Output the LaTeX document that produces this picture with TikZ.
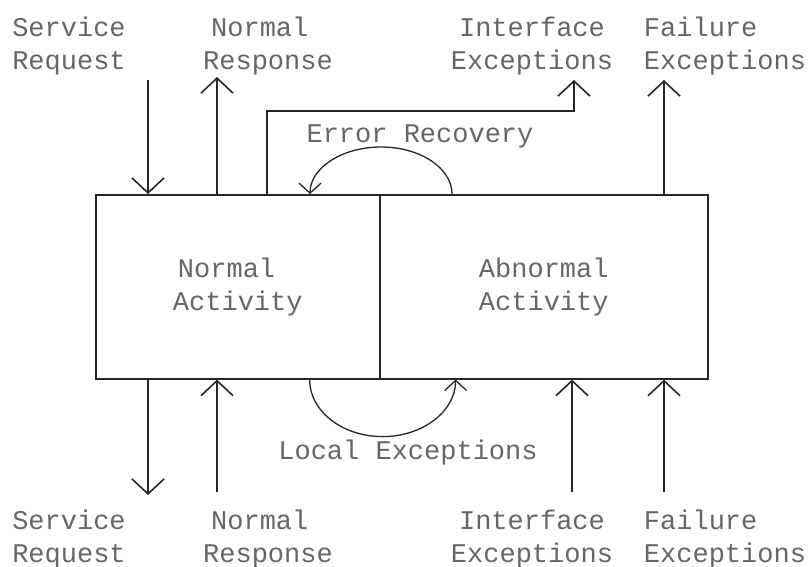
\documentclass[tikz,border=0pt]{standalone}
\usepackage{fontspec}
\setmonofont{Liberation Mono}
\usetikzlibrary{arrows.meta}
\usetikzlibrary{calc}

\begin{document}
\begin{tikzpicture}[
            x = 1pt, y = -1pt, % pixel grid of the drawing
            > = {Straight Barb[length=15pt, width=32pt]}, % open arrow head
            line width = 1.6pt,
            draw = black!85
        ]

        \tikzstyle{label}=[
            text = black!60,
            font = \ttfamily\fontsize{27}{33}\selectfont,
            inner sep = 0pt
        ]
        \tikzstyle{activity}=[
            label,
            draw = black!85,
            line width = 1.6pt,
            anchor = north west,
            minimum height = 184pt
        ]
        \tikzstyle{loop}=[
            line width = 1.3pt,
            -{Straight Barb[length=10pt, width=22pt]}
        ]

        \useasboundingbox (0,0) rectangle (808,566);

	% activity boxes
        \node[activity, minimum width=284pt, align=left] (NA) at (95,194) {\hspace*{5pt}Normal\\Activity};
        \node[activity, minimum width=328pt, align=center] (AA) at (379,194) {Abnormal\\Activity};

	% labels above
        \node[label, align=center] (SRt) at (69,46) {Service\\Request};
        \node[label, align=left] (NRt) at (268,46) {\hspace*{8pt}Normal\\Response};
        \node[label, align=center] (IEt) at (532,46) {Interface\\Exceptions};
        \node[label, align=left] (FEt) at (725,46) {Failure\\Exceptions};

	% labels below
        \node[label, align=center] (SRb) at (69,539) {Service\\Request};
        \node[label, align=left] (NRb) at (268,539) {\hspace*{8pt}Normal\\Response};
        \node[label, align=center] (IEb) at (532,539) {Interface\\Exceptions};
        \node[label, align=left] (FEb) at (725,539) {Failure\\Exceptions};

        \node[label] (ER) at (420,136) {Error Recovery};
        \node[label] (LE) at (408,453) {Local Exceptions};

	% free ends of the arrows
        \coordinate (SRin) at (148,80);
        \coordinate (NRout) at (217,77);
        \coordinate (IEup) at (267,111);
        \coordinate (IEout) at (574,80);
        \coordinate (FEout) at (664,80);
        \coordinate (SRout) at (148,495);
        \coordinate (NRin) at (217,492);
        \coordinate (IEin) at (572,492);
        \coordinate (FEin) at (664,492);

	% interface at the top
        \draw[->] (SRin) -- (SRin |- NA.north);
        \draw[->] (NRout |- NA.north) -- (NRout);
        \draw[->] (IEup |- NA.north) -- (IEup) -| (IEout);
        \draw[->] (FEout |- AA.north) -- (FEout);

	% interface at the bottom
        \draw[->] (SRout |- NA.south) -- (SRout);
        \draw[->] (NRin) -- (NRin |- NA.south);
        \draw[->] (IEin) -- (IEin |- AA.south);
        \draw[->] (FEin) -- (FEin |- AA.south);

	% loops between the two activities
        \draw[loop] ($(AA.north west)+(73,0)$) arc[start angle=0, end angle=180, x radius=71pt, y radius=47pt];
        \draw[loop] ($(NA.south east)+(-71,0)$) arc[start angle=180, end angle=360, x radius=73pt, y radius=57pt];

  \end{tikzpicture}
\end{document}
